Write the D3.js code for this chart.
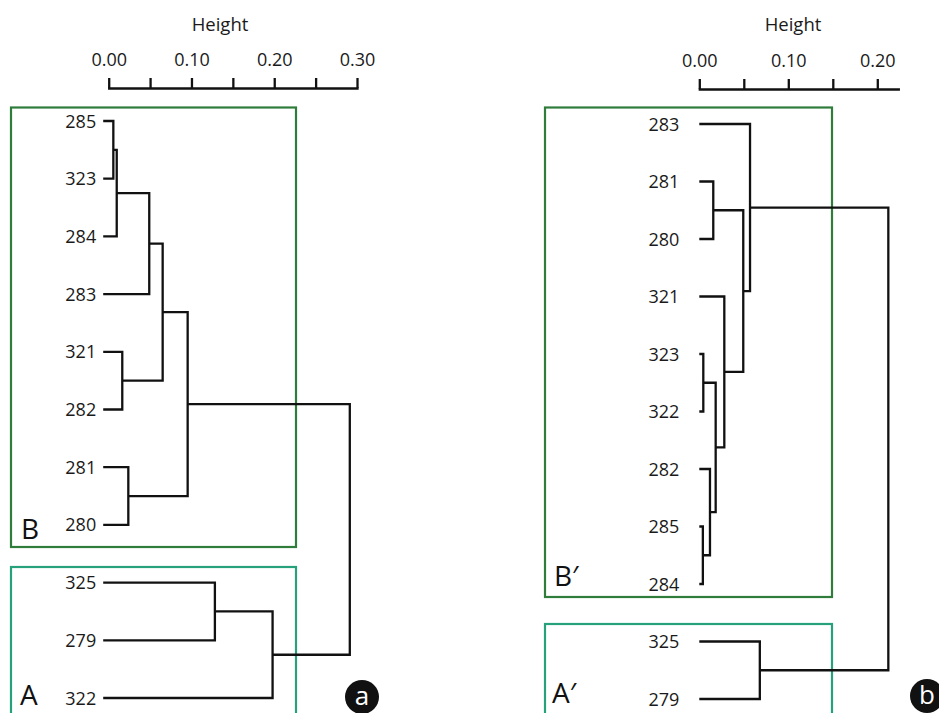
<!DOCTYPE html>
<html>
<head>
<meta charset="utf-8">
<script src="https://cdn.jsdelivr.net/npm/d3@7"></script>
<style>
  body { margin: 0; background: #fff; }
  svg { display: block; font-family: "Open Sans", sans-serif; }
  .axis path, .axis line { stroke: #111; stroke-width: 2.3px; }
  .axis text { font-size: 18px; fill: #1a1a1a; font-family: "Open Sans", sans-serif; }
  .leaf-label { font-size: 18px; fill: #1a1a1a; }
  .link { fill: none; stroke: #111; stroke-width: 2.3px; }
</style>
</head>
<body>
<svg id="chart" width="939" height="713"></svg>
<script>
// panel a
const leftLeaves = ["285", "323", "284", "283", "321", "282", "281", "280", "325", "279", "322"];
// [child, child, height]; "mN" = result of merge N
const leftMerges = [
  ["285", "323", 0.0056],
  ["m0", "284", 0.0097],
  ["m1", "283", 0.049],
  ["321", "282", 0.0164],
  ["m2", "m3", 0.0652],
  ["281", "280", 0.0237],
  ["m4", "m5", 0.0954],
  ["325", "279", 0.1283],
  ["m7", "322", 0.198],
  ["m6", "m8", 0.2913]
];
const leftTicks = [0, 0.05, 0.10, 0.15, 0.20, 0.25, 0.30];
const leftTickLabels = ["0.00", "", "0.10", "", "0.20", "", "0.30"];

// panel b
const rightLeaves = ["283", "281", "280", "321", "323", "322", "282", "285", "284", "325", "279"];
const rightMerges = [
  ["281", "280", 0.0157],
  ["323", "322", 0.0045],
  ["285", "284", 0.004],
  ["282", "m2", 0.012],
  ["m1", "m3", 0.0184],
  ["321", "m4", 0.0281],
  ["m0", "m5", 0.0494],
  ["283", "m6", 0.057],
  ["325", "279", 0.068],
  ["m7", "m8", 0.2124]
];
const rightTicks = [0, 0.05, 0.10, 0.15, 0.20];
const rightTickLabels = ["0.00", "", "0.10", "", "0.20"];

const svg = d3.select("#chart");

function drawPanel(cfg) {
  const g = svg.append("g");

  const x = d3.scaleLinear().domain([0, cfg.maxH]).range(cfg.xRange);
  const y = d3.scalePoint().domain(cfg.leaves).range(cfg.yRange);

  // group boxes
  cfg.boxes.forEach(b => {
    g.append("rect")
      .attr("x", b.x).attr("y", b.y)
      .attr("width", b.w).attr("height", b.h)
      .attr("fill", "none")
      .attr("stroke", b.color)
      .attr("stroke-width", 2.2);
    g.append("text")
      .attr("x", b.lx).attr("y", b.ly)
      .attr("font-size", 28)
      .attr("fill", "#111")
      .text(b.label);
  });

  // axis
  const axis = d3.axisTop(x)
    .tickValues(cfg.ticks)
    .tickFormat((d, i) => cfg.tickLabels[i])
    .tickSizeInner(10)
    .tickSizeOuter(0)
    .tickPadding(12);

  const ax = g.append("g")
    .attr("class", "axis")
    .attr("transform", `translate(0,${cfg.axisY})`)
    .call(axis);
  ax.select(".domain").attr("stroke-linecap", "square");

  g.append("text")
    .attr("x", cfg.titleX)
    .attr("y", 31)
    .attr("text-anchor", "middle")
    .attr("font-size", 18.5)
    .attr("fill", "#1a1a1a")
    .text("Height");

  // node positions
  const pos = {};
  const leafX = x(0) - cfg.leafPad;
  cfg.leaves.forEach(l => { pos[l] = { x: leafX, y: y(l) }; });
  cfg.merges.forEach((m, i) => {
    const a = pos[m[0]], b = pos[m[1]];
    const nx = x(m[2]);
    pos["m" + i] = { x: nx, y: (a.y + b.y) / 2 };
    g.append("path")
      .attr("class", "link")
      .attr("d", `M${a.x},${a.y}H${nx}V${b.y}H${b.x}`);
  });

  g.selectAll(".leaf-label")
    .data(cfg.leaves)
    .enter()
    .append("text")
    .attr("class", "leaf-label")
    .attr("x", leafX - cfg.labelGap)
    .attr("y", d => y(d) + 6.5)
    .attr("text-anchor", "end")
    .text(d => d);

  // panel letter
  g.append("circle")
    .attr("cx", cfg.tag.x).attr("cy", cfg.tag.y)
    .attr("r", 17)
    .attr("fill", "#111");
  g.append("text")
    .attr("x", cfg.tag.x).attr("y", cfg.tag.y + 8)
    .attr("text-anchor", "middle")
    .attr("font-size", 26)
    .attr("fill", "#fff")
    .text(cfg.tag.label);
}

drawPanel({
  leaves: leftLeaves,
  merges: leftMerges,
  ticks: leftTicks,
  tickLabels: leftTickLabels,
  maxH: 0.30,
  xRange: [108.7, 357],
  yRange: [121, 698],
  axisY: 88,
  titleX: 220,
  leafPad: 5.5,
  labelGap: 7,
  boxes: [
    { x: 11, y: 107.5, w: 285, h: 439.5, color: "#2f7d3b", label: "B", lx: 21, ly: 539 },
    { x: 11, y: 567, w: 285, h: 170, color: "#27a17c", label: "A", lx: 20, ly: 705 }
  ],
  tag: { x: 362, y: 697, label: "a" }
});

drawPanel({
  leaves: rightLeaves,
  merges: rightMerges,
  ticks: rightTicks,
  tickLabels: rightTickLabels,
  maxH: 0.2236,
  xRange: [699.3, 898.3],
  yRange: [124, 699],
  axisY: 89,
  titleX: 793,
  leafPad: 0,
  labelGap: 20,
  boxes: [
    { x: 545, y: 107.5, w: 287, h: 489.5, color: "#2f7d3b", label: "B\u2032", lx: 554, ly: 586 },
    { x: 545, y: 624, w: 287, h: 120, color: "#27a17c", label: "A\u2032", lx: 552, ly: 703 }
  ],
  tag: { x: 927, y: 696, label: "b" }
});
</script>
</body>
</html>
